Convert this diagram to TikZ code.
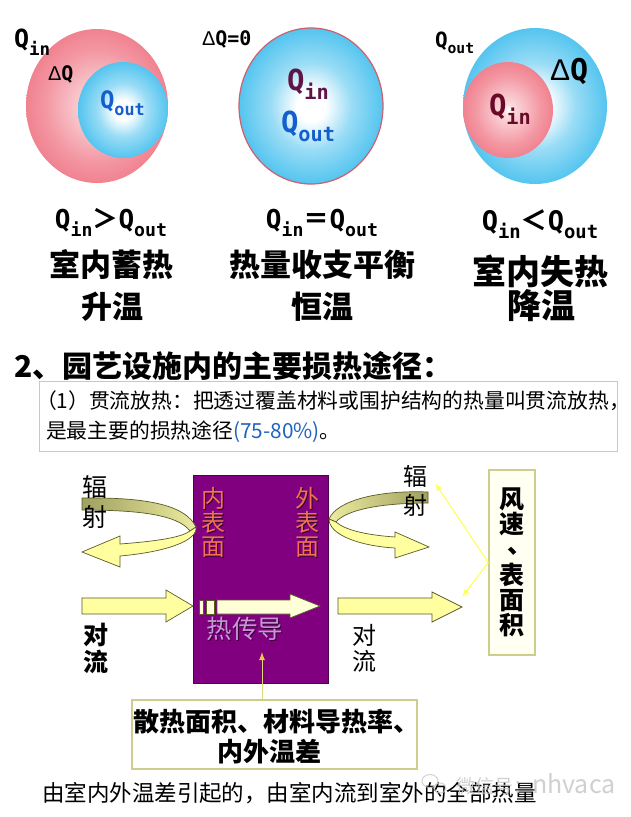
\documentclass[tikz,border=0pt]{standalone}
\usepackage{fontspec}
\usepackage{graphicx}
\setmainfont{Noto Sans CJK SC}
\newfontfamily\cjk{Noto Sans CJK SC}
\newfontfamily\qf{DejaVu Sans Mono}
\newfontfamily\grk{Liberation Sans}
\usetikzlibrary{arrows.meta}

\definecolor{pinkc}{RGB}{238,108,124}
\definecolor{bluec}{RGB}{30,178,234}
\definecolor{ringc}{RGB}{205,95,110}
\definecolor{qblue}{RGB}{20,95,205}
\definecolor{qpurp}{RGB}{95,20,70}
\definecolor{qmar}{RGB}{105,10,40}
\definecolor{purp}{RGB}{128,0,128}
\definecolor{ayel}{RGB}{255,255,160}
\definecolor{ayelL}{RGB}{255,255,215}
\definecolor{aline}{RGB}{90,90,40}
\definecolor{olive1}{RGB}{160,160,95}
\definecolor{olive2}{RGB}{235,235,160}
\definecolor{surf}{RGB}{240,115,80}
\definecolor{condc}{RGB}{200,150,215}
\definecolor{shadowc}{RGB}{50,0,50}
\definecolor{thinc}{RGB}{255,255,100}
\definecolor{boxline}{RGB}{205,205,140}
\definecolor{boxfill}{RGB}{255,255,242}
\definecolor{boxgray}{RGB}{200,200,200}
\definecolor{pctblue}{RGB}{30,100,190}
\definecolor{condline}{RGB}{225,215,120}
\definecolor{headc}{RGB}{250,195,70}
\definecolor{wmgray}{RGB}{200,200,200}

\pgfdeclareradialshading{pinkball}{\pgfpoint{0bp}{0bp}}{color(0bp)=(white); color(3bp)=(pinkc!25!white); color(18bp)=(pinkc!70!white); color(32bp)=(pinkc); color(100bp)=(pinkc)}
\pgfdeclareradialshading{blueball}{\pgfpoint{0bp}{0bp}}{color(0bp)=(white); color(5bp)=(white); color(14bp)=(bluec!45!white); color(30bp)=(bluec!90!white); color(40bp)=(bluec); color(100bp)=(bluec)}

\newcommand\fsz[1]{\fontsize{#1}{#1}\selectfont}
\newcommand\QQ[1]{Q\raisebox{-0.32em}{\scalebox{0.7}{#1}}}
\newcommand\commaV{\makebox[1em][l]{\hspace{0.3em}\raisebox{0.22em}{、}}}

\begin{document}
\begin{tikzpicture}[x=1pt,y=-1pt,
  txt/.style={inner sep=0pt, outer sep=0pt},
  blockarrow/.style={fill=ayel, draw=aline, line width=0.7pt, line join=miter},
  backband/.style={draw=aline, line width=0.7pt},
  thinarrow/.style={draw=thinc, line width=1.2pt, -{Latex[length=8pt,width=6pt]}},
  condarrow/.style={draw=condline, line width=1pt, -{Latex[length=8pt,width=6pt,color=headc]}},
  surftxt/.style={txt, align=center, font={\cjk\fontsize{24}{24}\selectfont}},
  boldrow/.style={txt, font={\cjk\bfseries}},
]
\fill[white] (0,0) rectangle (630,817);
\useasboundingbox (0,0) rectangle (630,817);

% ---- three balance circles ----
\shade[shading=pinkball] (97,106) ellipse [x radius=71, y radius=77];
\shade[shading=blueball] (123,110) ellipse [x radius=45, y radius=48];
\shadedraw[shading=blueball, draw=ringc, line width=1.2pt] (311,106) ellipse [x radius=72, y radius=78];
\shade[shading=blueball] (535,106) ellipse [x radius=72, y radius=78];
\shade[shading=pinkball] (508,110) ellipse [x radius=45, y radius=48];

\node[txt, anchor=base west] (qinL) at (14,47) {\qf\bfseries\fsz{25}\QQ{in}};
\node[txt, anchor=base west] (dqL) at (48,80) {\fsz{20}{\grk Δ}{\qf\bfseries Q}};
\node[txt, anchor=base west, text=qblue] (qoutL) at (100,108) {\qf\bfseries\fsz{24}\QQ{out}};

\node[txt, anchor=base west] (dqM) at (202,45) {\fsz{20}{\grk Δ}{\qf\bfseries Q=0}};
\node[txt, anchor=base west, text=qpurp] (qinM) at (287,90) {\qf\bfseries\fsz{29}\QQ{in}};
\node[txt, anchor=base west, text=qblue] (qoutM) at (281,132) {\qf\bfseries\fsz{29}\QQ{out}};

\node[txt, anchor=base west] (qoutR) at (435,47) {\qf\bfseries\fsz{21}\QQ{out}};
\node[txt, anchor=base west] (dqR) at (550,80) {\fsz{30}{\grk Δ}{\qf\bfseries Q}};
\node[txt, anchor=base west, text=qmar] (qinR) at (489,115) {\qf\bfseries\fsz{29}\QQ{in}};

% ---- relations ----
\node[txt, anchor=base] (relL) at (111,228) {\qf\bfseries\fsz{26}\QQ{in}{\cjk\bfseries ＞}\QQ{out}};
\node[boldrow] (stL1) at (111,265) {\fsz{31}室内蓄热};
\node[boldrow] (stL2) at (112,307) {\fsz{31}升温};

\node[txt, anchor=base] (relM) at (322,228) {\qf\bfseries\fsz{26}\QQ{in}{\cjk\bfseries ＝}\QQ{out}};
\node[boldrow] (stM1) at (322,265) {\fsz{31}热量收支平衡};
\node[boldrow] (stM2) at (322,307) {\fsz{31}恒温};

\node[txt, anchor=base] (relR) at (540,230) {\qf\bfseries\fsz{27}\QQ{in}{\cjk\bfseries ＜}\QQ{out}};
\node[boldrow] (stR1) at (540,271) {\fsz{34}室内失热};
\node[boldrow] (stR2) at (541,306) {\fsz{34}降温};

% ---- heading and description box ----
\node[boldrow, anchor=west] (head) at (14,366) {\fsz{30}2、园艺设施内的主要损热途径：};
\node[draw=boxgray, fill=white, line width=1pt, minimum width=578pt, minimum height=70pt, anchor=north west, inner sep=0pt] (tbox) at (39,381) {};
\node[txt, anchor=west] (t1) at (36,401) {\cjk\fsz{20.8}（1）贯流放热：把透过覆盖材料或围护结构的热量叫贯流放热，};
\node[txt, anchor=west] (t2) at (46,432) {\cjk\fsz{20.8}是最主要的损热途径{\color{pctblue}(75-80\%)}。};

% ---- wall ----
\node[fill=purp, draw=purp!60!black, line width=0.5pt, minimum width=135pt, minimum height=208pt, inner sep=0pt] (wall) at (260.5,579) {};
\node[surftxt, text=shadowc] (inSsh) at (214,523) {内\\表\\面};
\node[surftxt, text=surf] (inS) at (213,522) {内\\表\\面};
\node[surftxt, text=shadowc] (outSsh) at (308,523) {外\\表\\面};
\node[surftxt, text=surf] (outS) at (307,522) {外\\表\\面};

% ---- left radiation loop ----
\path[backband, left color=olive1, right color=olive2] (82,498) .. controls (150,497) and (186,506) .. (196,527) -- (190,531) .. controls (178,515) and (140,510) .. (82,510) -- cycle;
\path[blockarrow] (196,527) .. controls (198,541) and (165,552) .. (120,556) -- (120,567) -- (82,552) -- (120,536) -- (120,544) .. controls (160,541) and (182,537) .. (190,531) -- cycle;

% ---- right radiation loop ----
\path[backband, left color=olive2, right color=olive1] (428,492) .. controls (380,490) and (337,500) .. (329,519) -- (336,522) .. controls (346,510) and (380,503) .. (428,503) -- cycle;
\path[blockarrow] (329,519) .. controls (329,535) and (360,546) .. (395,548) -- (395,558) -- (429,547) -- (395,532) -- (395,537) .. controls (366,535) and (345,530) .. (336,522) -- cycle;

% ---- convection / conduction arrows ----
\path[blockarrow] (82,598) -- (166,598) -- (166,590) -- (193,606) -- (166,622) -- (166,614) -- (82,614) -- cycle;
\path[blockarrow, fill=ayelL] (199,600) rectangle (203,614);
\path[blockarrow, fill=ayelL] (206,600) rectangle (214,614);
\path[blockarrow, fill=ayelL] (217,600) -- (290,600) -- (290,594) -- (320,606) -- (290,618) -- (290,614) -- (217,614) -- cycle;
\path[blockarrow] (338,598) -- (432,598) -- (432,592) -- (462,607) -- (432,622) -- (432,614) -- (338,614) -- cycle;

\node[txt, font={\cjk\fontsize{25.5}{25.5}\selectfont}, text=shadowc] (condsh) at (246,630) {热传导};
\node[txt, font={\cjk\fontsize{25.5}{25.5}\selectfont}, text=condc] (cond) at (245,629) {热传导};

% ---- side labels ----
\node[txt, align=center, font={\cjk\fontsize{25}{29.5}\selectfont}] (radL) at (95,502) {辐\\射};
\node[txt, align=center, font={\cjk\fontsize{24}{29}\selectfont}] (radR) at (415,491) {辐\\射};
\node[txt, align=center, font={\cjk\bfseries\fontsize{25}{27}\selectfont}] (convL) at (96,648) {对\\流};
\node[txt, align=center, font={\cjk\fontsize{24}{26}\selectfont}] (convR) at (364,648) {对\\流};

% ---- factor box right ----
\node[draw=boxline, fill=boxfill, line width=1.5pt, minimum width=46pt, minimum height=185pt, inner sep=0pt, align=center, font={\cjk\bfseries\fontsize{25}{25.2}\selectfont}] (fbox) at (512,562.5) {风\\速\\\commaV\\表\\面\\积};
\coordinate (radTip) at (435,483);
\coordinate (convTip) at (462,597);
\draw[thinarrow] (fbox.west) -- (radTip);
\draw[thinarrow] (fbox.west) -- (convTip);

% ---- factor box bottom ----
\node[draw=boxline, fill=white, line width=1.2pt, minimum width=285pt, minimum height=69pt, inner sep=0pt] (bbox) at (274.5,734.5) {};
\node[boldrow, anchor=west] (b1) at (133,722) {\fsz{26}散热面积、材料导热率、};
\node[boldrow] (b2) at (269,752) {\fsz{26}内外温差};
\coordinate (condTip) at (262,652);
\draw[condarrow] (condTip |- bbox.north) -- (condTip);

% ---- bottom line ----
\node[txt, anchor=west] (bot) at (42,793) {\cjk\fsz{22.5}由室内外温差引起的，由室内流到室外的全部热量};

% ---- watermark ----
\draw[wmgray, line width=1pt, opacity=0.8] (430,781) ellipse [x radius=8, y radius=6.5];
\draw[wmgray, line width=1pt, opacity=0.8] (440,788) ellipse [x radius=6, y radius=5];
\node[txt, anchor=west, text=wmgray, opacity=0.85] (wm) at (456,784) {\cjk\fsz{19}微信号：{\fsz{25}nhvaca}};
\end{tikzpicture}
\end{document}
